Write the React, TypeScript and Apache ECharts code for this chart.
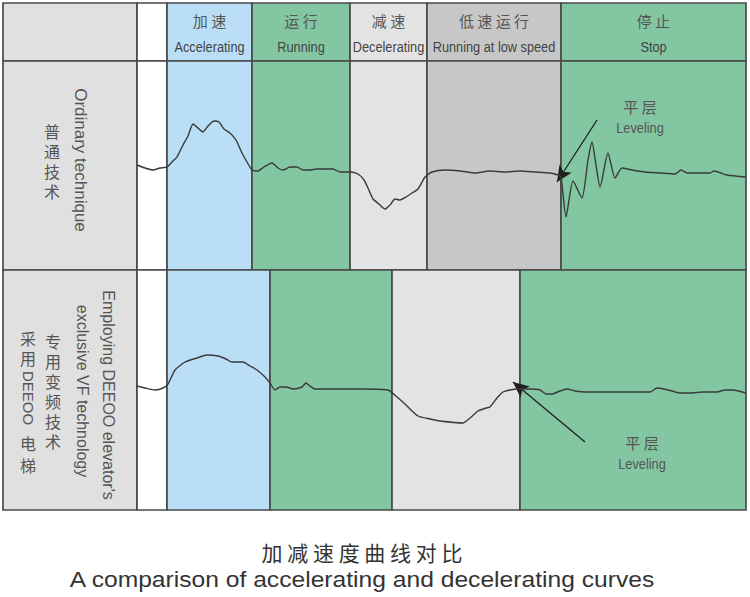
import React, { useEffect, useRef } from "react";
import * as echarts from "echarts";

// ---- phase layout (time axis, same units as the x axis) ----
const headerCn = ["", "", "加 速", "运 行", "减 速", "低 速 运 行", "停 止"];
const headerEn = ["", "", "Accelerating", "Running", "Decelerating", "Running at low speed", "Stop"];
const row1Bounds = [3, 137, 167, 252, 350, 427, 561, 746];
const row1Kinds = ["label", "blank", "accel", "run", "decel", "low", "stop"];
const row2Bounds = [3, 137, 167, 270, 392, 520, 746];
const row2Kinds = ["label", "blank", "accel", "run", "decel", "stop"];

// ---- curve 1: ordinary technique ----
const row1X = [137, 145, 153, 160, 167, 173, 177, 183, 188, 193, 198, 203, 208, 214, 219, 224, 230, 236, 242, 247, 252, 258, 264, 272, 278, 283, 290, 297, 303, 310, 317, 333, 340, 350, 358, 364, 368, 373, 379, 385, 390, 395, 400, 406, 412, 418, 425, 432, 445, 460, 475, 490, 505, 520, 535, 550, 558, 561, 566, 573, 582, 588, 592, 596, 600, 608, 615, 622, 632, 645, 660, 675, 681, 687, 710, 714, 727, 746];
const row1Y = [3, 0, -2, 0, 1, 7, 11, 23, 32, 44, 40, 36, 42, 47, 46, 39, 35, 28, 15, 6, -2, -3, 1, 5, 0, -2, 1, 1, -2, -2, -1, -1, -4, -4, -6, -12, -20, -31, -36, -41, -37, -31, -32, -29, -25, -21, -9, -4, -2, -3, -5, -3, -4, -3, -4, -5, -7, -9, -49, -13, -30, 8, 26, 3, -19, 15, -10, 0, -2, -4, -5, -6, -2, -5, -5, -3, -7, -9];

// ---- curve 2: DEEOO VF technology ----
const row2X = [137, 145, 155, 163, 168, 175, 185, 197, 207, 218, 226, 232, 243, 250, 257, 265, 270, 275, 280, 286, 293, 302, 306, 310, 315, 330, 363, 388, 397, 405, 418, 430, 440, 463, 470, 478, 486, 490, 497, 503, 510, 517, 530, 540, 546, 552, 560, 567, 575, 585, 650, 657, 664, 672, 680, 690, 703, 717, 725, 733, 746];
const row2Y = [3, 1, -1, 1, 5, 19, 27, 31, 34, 33, 30, 27, 27, 23, 19, 12, 6, -1, 2, 2, 0, 2, 6, 3, 0, 0, 0, -1, -8, -15, -27, -30, -32, -34, -29, -22, -19, -18, -9, -3, -1, 0, 0, -1, -5, -5, -2, 0, -2, -3, -3, 1, 0, -2, -4, -4, -3, -3, -1, -1, -4];

// ---- leveling arrows [from, to] ----
const arrow1 = [[597, 48], [557, -14]];
const arrow2 = [[585, -53], [513, 7]];

const cellColors: Record<string, string> = {
  label: "#e0e0e0",
  blank: "#ffffff",
  accel: "#b9def5",
  run: "#83c6a2",
  decel: "#e3e3e3",
  low: "#c7c7c7",
  stop: "#83c6a2",
};

const CN = '"Noto Sans CJK SC", sans-serif';
const NARROW = '"Liberation Sans", Arial, sans-serif';
const SANS = '"Liberation Sans", Arial, sans-serif';
const NARROW_SCALE = 0.85;

function cellSeries(gridIdx: number, bounds: number[], kinds: string[], withText: boolean) {
  return {
    type: "custom",
    xAxisIndex: gridIdx,
    yAxisIndex: gridIdx,
    clip: false,
    silent: true,
    z: 1,
    data: kinds.map((k, i) => [bounds[i], bounds[i + 1]]),
    renderItem: (params: any, api: any) => {
      const i = params.dataIndex;
      const a = api.coord([api.value(0), 0]);
      const b = api.coord([api.value(1), 0]);
      const cs = params.coordSys;
      const children: any[] = [
        {
          type: "rect",
          shape: { x: a[0], y: cs.y, width: b[0] - a[0], height: cs.height },
          style: { fill: cellColors[kinds[i]], stroke: "#4a4a4a", lineWidth: 1.7 },
        },
      ];
      if (withText && headerCn[i]) {
        const cx = (a[0] + b[0]) / 2;
        children.push({
          type: "text",
          x: cx,
          y: cs.y + 17,
          style: { text: headerCn[i], fontFamily: CN, fontSize: 15, fill: "#555", align: "center", verticalAlign: "middle" },
        });
        children.push({
          type: "text",
          x: cx,
          y: cs.y + 44,
          scaleX: NARROW_SCALE,
          style: { text: headerEn[i], fontFamily: NARROW, fontSize: 15, fill: "#444", align: "center", verticalAlign: "middle" },
        });
      }
      return { type: "group", children };
    },
  };
}

function curveSeries(gridIdx: number, xs: number[], ys: number[], arrow: number[][]) {
  return {
    type: "line",
    xAxisIndex: gridIdx,
    yAxisIndex: gridIdx,
    data: xs.map((x, i) => [x, ys[i]]),
    showSymbol: false,
    symbol: "none",
    smooth: 0.2,
    lineStyle: { color: "#3a3a3a", width: 1.4 },
    z: 5,
    silent: true,
    markLine: {
      silent: true,
      symbol: ["none", "arrow"],
      symbolSize: [11, 16],
      label: { show: false },
      lineStyle: { color: "#1e1e1e", width: 1.3, type: "solid" },
      data: [[{ coord: arrow[0] }, { coord: arrow[1] }]],
    },
  };
}

const vText = (text: string, x: number, y: number, size: number, rot: number, family: string, lh?: number, sx?: number) => ({
  type: "text",
  x,
  y,
  rotation: rot,
  scaleX: sx ?? 1,
  z: 10,
  style: {
    text,
    fontFamily: family,
    fontSize: size,
    lineHeight: lh,
    fill: "#555",
    align: "center",
    verticalAlign: "middle",
  },
});

export default function App() {
  const ref = useRef<HTMLDivElement>(null);
  useEffect(() => {
    if (!ref.current) return;
    const chart = echarts.init(ref.current, null, { renderer: "svg" });
    const R = -Math.PI / 2;
    chart.setOption({
      animation: false,
      backgroundColor: "#ffffff",
      grid: [
        { left: 3, top: 3, width: 743, height: 58 },
        { left: 3, top: 61, width: 743, height: 209 },
        { left: 3, top: 270, width: 743, height: 240 },
      ],
      xAxis: [0, 1, 2].map((g) => ({ type: "value", gridIndex: g, min: 3, max: 746, show: false })),
      yAxis: [
        { type: "value", gridIndex: 0, min: 0, max: 1, show: false },
        { type: "value", gridIndex: 1, min: -102, max: 107, show: false },
        { type: "value", gridIndex: 2, min: -121, max: 119, show: false },
      ],
      series: [
        cellSeries(0, row1Bounds, row1Kinds, true),
        cellSeries(1, row1Bounds, row1Kinds, false),
        cellSeries(2, row2Bounds, row2Kinds, false),
        curveSeries(1, row1X, row1Y, arrow1),
        curveSeries(2, row2X, row2Y, arrow2),
      ],
      graphic: [
        vText("普\n通\n技\n术", 52, 161, 16, 0, CN, 20),
        vText("Ordinary technique", 80, 160, 17, R, SANS),
        vText("Employing DEEOO elevator's", 108, 395, 16, R, SANS),
        vText("exclusive VF technology", 82, 391, 16, R, SANS),
        vText("专\n用\n变\n频\n技\n术", 53, 391, 16, 0, CN, 20),
        vText("采\n用", 28, 348, 16, 0, CN, 20),
        vText("DEEOO", 28, 398, 15, R, SANS),
        vText("电\n梯", 28, 454, 16, 0, CN, 22),
        vText("平 层", 640, 106, 15, 0, CN),
        vText("Leveling", 640, 128, 15, 0, NARROW, undefined, NARROW_SCALE),
        vText("平 层", 642, 442, 15, 0, CN),
        vText("Leveling", 642, 464, 15, 0, NARROW, undefined, NARROW_SCALE),
        {
          type: "text",
          x: 362,
          y: 552,
          style: { text: "加 减 速 度 曲 线 对 比", fontFamily: CN, fontSize: 21, fill: "#333", align: "center", verticalAlign: "middle" },
        },
        {
          type: "text",
          x: 362,
          y: 579,
          scaleX: 1.12,
          style: { text: "A comparison of accelerating and decelerating curves", fontFamily: SANS, fontSize: 22, fill: "#333", align: "center", verticalAlign: "middle" },
        },
      ],
    });
    return () => chart.dispose();
  }, []);
  return <div ref={ref} style={{ position: "fixed", left: 0, top: 0, width: 750, height: 597 }} />;
}
